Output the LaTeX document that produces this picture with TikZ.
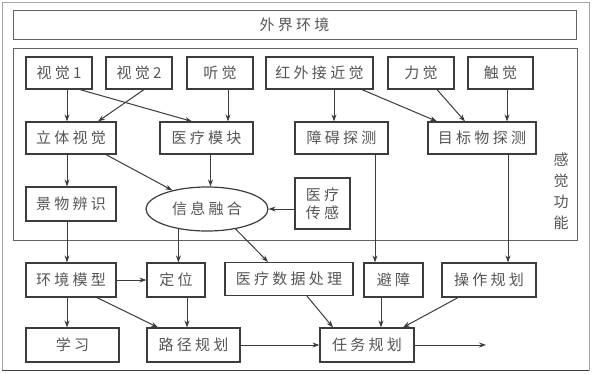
\documentclass[tikz,border=0pt]{standalone}
\usepackage{fontspec}
\newfontfamily\cjk[LetterSpace=22]{Noto Sans CJK SC}
\usetikzlibrary{arrows.meta,shapes.geometric}
\definecolor{ln}{HTML}{3C3C3C}
\definecolor{tx}{HTML}{555555}
\begin{document}
\begin{tikzpicture}[x=1pt,y=-1pt,
  box/.style={draw=ln,line width=1.2pt,inner sep=0pt,text=tx,font=\cjk\fontsize{15}{18}\selectfont},
  arr/.style={draw=ln,line width=1pt,-{Stealth[length=7pt,width=5pt]}}]
\useasboundingbox (0,0) rectangle (592,373);
\fill[white] (0,0) rectangle (592,373);
\draw[gray!70,line width=0.8pt] (2,2) rectangle (589,370);
\draw[ln,line width=1.5pt] (2,370.5) -- (589,370.5);
% outer boxes
\node[box,line width=1pt,draw=ln!80,minimum width=563pt,minimum height=29pt] (env) at (294.5,24.5) {外界环境};
\node[draw=ln!80,line width=1pt,minimum width=564pt,minimum height=192pt,inner sep=0pt] (sense) at (295,144) {};
\node[text=tx,font=\cjk\fontsize{15}{21}\selectfont,align=center,inner sep=0pt] (senselbl) at (561,191) {感\\觉\\功\\能};
% row 1
\node[box,minimum width=66pt,minimum height=32pt] (v1) at (59,73) {视觉1};
\node[box,minimum width=66pt,minimum height=32pt] (v2) at (139,73) {视觉2};
\node[box,minimum width=66pt,minimum height=32pt] (ting) at (220,73) {听觉};
\node[box,minimum width=107pt,minimum height=32pt] (hw) at (319.5,73) {红外接近觉};
\node[box,minimum width=66pt,minimum height=32pt] (li) at (421,73) {力觉};
\node[box,minimum width=65pt,minimum height=32pt] (chu) at (500.5,73) {触觉};
% row 2
\node[box,minimum width=90pt,minimum height=32pt] (liti) at (71,138) {立体视觉};
\node[box,minimum width=93pt,minimum height=32pt] (ylmk) at (206.5,138) {医疗模块};
\node[box,minimum width=93pt,minimum height=32pt] (za) at (341.5,138) {障碍探测};
\node[box,minimum width=108pt,minimum height=32pt] (mb) at (482,138) {目标物探测};
% row 3
\node[box,minimum width=90pt,minimum height=34pt] (jw) at (71,204) {景物辨识};
\node[box,ellipse,minimum width=122pt,minimum height=44pt] (ell) at (207,209) {信息融合};
\node[box,minimum width=55pt,minimum height=51pt,align=center] (ylcg) at (322.5,203.5) {医疗\\传感};
% row 4
\node[box,minimum width=90pt,minimum height=34pt] (hj) at (71,280) {环境模型};
\node[box,minimum width=58pt,minimum height=34pt] (dw) at (176,280) {定位};
\node[box,minimum width=128pt,minimum height=33pt] (ylsj) at (289,279) {医疗数据处理};
\node[box,minimum width=59pt,minimum height=34pt] (bz) at (393.5,280) {避障};
\node[box,minimum width=94pt,minimum height=34pt] (cz) at (489,280) {操作规划};
% row 5
\node[box,minimum width=93pt,minimum height=34pt] (xx) at (72.5,345) {学习};
\node[box,minimum width=93pt,minimum height=34pt] (lj) at (193.5,345) {路径规划};
\node[box,minimum width=94pt,minimum height=34pt] (rw) at (367,345) {任务规划};
\coordinate (out) at (486,345);
% arrows
\draw[arr] ([xshift=8pt]v1.south) -- ([xshift=-4pt]liti.north);
\draw[arr] ([xshift=21pt]v1.south) -- ([xshift=-14.5pt]ylmk.north);
\draw[arr] ([xshift=5pt]v2.south) -- ([xshift=27pt]liti.north);
\draw[arr] ([xshift=8pt]ting.south) -- ([xshift=21.5pt]ylmk.north);
\draw[arr] ([xshift=14.5pt]hw.south) -- ([xshift=-7.5pt]za.north);
\draw[arr] ([xshift=42.5pt]hw.south) -- ([xshift=-45pt]mb.north);
\draw[arr] ([xshift=16pt]li.south) -- ([xshift=-17pt]mb.north);
\draw[arr] ([xshift=6.5pt]chu.south) -- ([xshift=25pt]mb.north);
\draw[arr] ([xshift=-4pt]liti.south) -- ([xshift=-4pt]jw.north);
\draw[arr] ([xshift=35pt]liti.south) -- (ell);
\draw[arr] ([xshift=4pt]ylmk.south) -- ([xshift=4pt]ylmk.south |- ell.north);
\draw[arr] (ylcg.west |- ell.east) -- (ell.east);
\draw[arr] ([xshift=-4pt]jw.south) -- ([xshift=-4pt]hj.north);
\draw[arr] (ell.-145) -- (ell.-145 |- dw.north);
\draw[arr] (ell.-35) -- ([xshift=-21pt]ylsj.north);
\draw[arr] ([xshift=33.5pt]za.south) -- ([xshift=-18.5pt]bz.north);
\draw[arr] ([xshift=26pt]mb.south) -- ([xshift=19pt]cz.north);
\draw[arr] (hj.east) -- (dw.west);
\draw[arr] ([xshift=-4pt]hj.south) -- ([xshift=-5.5pt]xx.north);
\draw[arr] ([xshift=26pt]hj.south) -- ([xshift=-35.5pt]lj.north);
\draw[arr] ([xshift=11pt]dw.south) -- ([xshift=-6.5pt]lj.north);
\draw[arr] ([xshift=18pt]ylsj.south) -- ([xshift=-34pt]rw.north);
\draw[arr] ([xshift=-12.5pt]bz.south) -- ([xshift=14pt]rw.north);
\draw[arr] ([xshift=-31pt]cz.south) -- ([xshift=36pt]rw.north);
\draw[arr] (lj.east) -- (rw.west);
\draw[arr] (rw.east) -- (out);
\end{tikzpicture}
\end{document}
